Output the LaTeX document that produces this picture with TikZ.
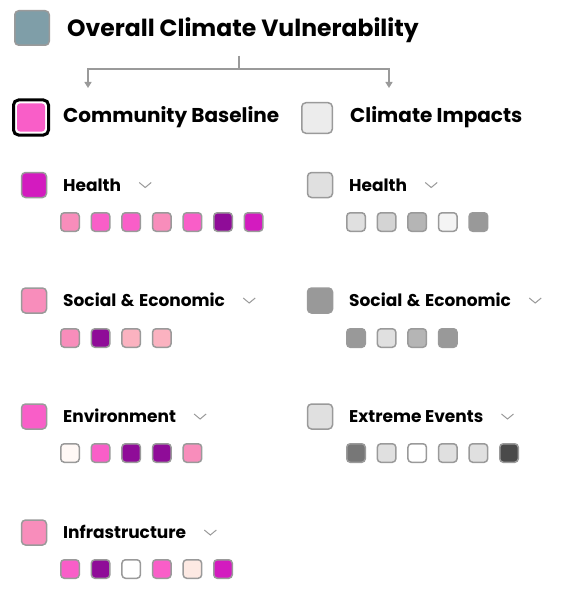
\documentclass[tikz,border=0pt]{standalone}
\usepackage{fontspec}
\setmainfont{Poppins}
\usetikzlibrary{arrows.meta,calc,positioning}
\definecolor{cvSlate}{HTML}{7F9EA8}
\definecolor{cvMagenta}{HTML}{D31BBF}
\definecolor{cvPink}{HTML}{F95EC8}
\definecolor{cvRose}{HTML}{F88DBB}
\definecolor{cvPlum}{HTML}{8F0C98}
\definecolor{cvBlush}{HTML}{FBB2C0}
\definecolor{cvCream}{HTML}{FFF8F5}
\definecolor{cvPeach}{HTML}{FDE9E3}
\definecolor{gA}{HTML}{F4F4F4}
\definecolor{gB}{HTML}{E0E0E0}
\definecolor{gC}{HTML}{D4D4D4}
\definecolor{gD}{HTML}{B5B5B5}
\definecolor{gE}{HTML}{999999}
\definecolor{gF}{HTML}{777777}
\definecolor{gG}{HTML}{4A4A4A}
\definecolor{edgeGray}{HTML}{9A9A9A}
\tikzset{
  swatch/.style={draw=edgeGray,line width=1.5pt,rounded corners=4pt,minimum size=25pt,inner sep=0pt},
  chip/.style={draw=edgeGray,line width=1.5pt,rounded corners=3.5pt,minimum size=18.5pt,inner sep=0pt},
  rowlabel/.style={anchor=base west,inner sep=0pt,font=\fontsize{17}{20}\selectfont\bfseries},
  headlabel/.style={anchor=base west,inner sep=0pt,font=\fontsize{20}{24}\selectfont\bfseries},
  chev/.style={draw=edgeGray,line width=1pt},
  link/.style={draw=edgeGray,line width=1.3pt,-{Triangle[width=7pt,length=6pt]}}
}
\newcommand{\chevron}[1]{\draw[chev] ($(#1.base east)+(18,-8.5)$) -- ++(6,5) -- ++(6,-5);}
\begin{document}
\begin{tikzpicture}[x=1pt,y=-1pt]
\useasboundingbox (0,0) rectangle (567,591);
% top level
\node[swatch,minimum size=34.5pt,fill=cvSlate] (overall) at (32,28) {};
\node[anchor=base west,inner sep=0pt,font=\fontsize{23.5}{28}\selectfont\bfseries] (overallTxt) at (67,37) {Overall Climate Vulnerability};
\coordinate (fork) at (239,56);
\coordinate (toBase) at (88,88);
\coordinate (toImpact) at (389,88);
\draw[link] (fork) -- ++(0,13) -| (toBase);
\draw[link] (fork) -- ++(0,13) -| (toImpact);
% second level
\node[draw=black,line width=3pt,rounded corners=5pt,minimum size=35pt,inner sep=0pt,fill=white] (base) at (31,117.5) {};
\node[rounded corners=3pt,minimum size=28pt,inner sep=0pt,fill=cvPink] (baseFill) at (base) {};
\node[headlabel] (baseTxt) at (63,123) {Community Baseline};
\node[swatch,minimum size=30.5pt,fill=gB!60!white] (impact) at (317,118) {};
\node[headlabel] (impactTxt) at (350,123) {Climate Impacts};
% community baseline rows
\node[swatch,fill=cvMagenta] (bHealth) at (34,185) {};
\node[rowlabel] (bHealthTxt) at (63,191) {Health};
\chevron{bHealthTxt}
\foreach \c [count=\i] in {cvRose,cvPink,cvPink,cvRose,cvPink,cvPlum,cvMagenta}
  \node[chip,fill=\c] (bh\i) at ({70+30.6*(\i-1)},222) {};
\node[swatch,fill=cvRose] (bSocial) at (34,300.5) {};
\node[rowlabel] (bSocialTxt) at (63,306.5) {Social\hspace{1pt} \&\hspace{1pt} Economic};
\chevron{bSocialTxt}
\foreach \c [count=\i] in {cvRose,cvPlum,cvBlush,cvBlush}
  \node[chip,fill=\c] (bs\i) at ({70+30.6*(\i-1)},338) {};
\node[swatch,fill=cvPink] (bEnv) at (34,416.5) {};
\node[rowlabel] (bEnvTxt) at (63,422.5) {Environment};
\chevron{bEnvTxt}
\foreach \c [count=\i] in {cvCream,cvPink,cvPlum,cvPlum,cvRose}
  \node[chip,fill=\c] (be\i) at ({70+30.6*(\i-1)},453) {};
\node[swatch,fill=cvRose] (bInfra) at (34,532.5) {};
\node[rowlabel] (bInfraTxt) at (63,538.5) {Infrastructure};
\chevron{bInfraTxt}
\foreach \c [count=\i] in {cvPink,cvPlum,white,cvPink,cvPeach,cvMagenta}
  \node[chip,fill=\c] (bi\i) at ({70+30.6*(\i-1)},569) {};
% climate impacts rows
\node[swatch,fill=gB] (iHealth) at (320,185) {};
\node[rowlabel] (iHealthTxt) at (349,191) {Health};
\chevron{iHealthTxt}
\foreach \c [count=\i] in {gB,gC,gD,gA,gE}
  \node[chip,fill=\c] (ih\i) at ({356+30.6*(\i-1)},222) {};
\node[swatch,fill=gE] (iSocial) at (320,300.5) {};
\node[rowlabel] (iSocialTxt) at (349,306.5) {Social\hspace{1pt} \&\hspace{1pt} Economic};
\chevron{iSocialTxt}
\foreach \c [count=\i] in {gE,gB,gD,gE}
  \node[chip,fill=\c] (is\i) at ({356+30.6*(\i-1)},338) {};
\node[swatch,fill=gB] (iExtreme) at (320,416.5) {};
\node[rowlabel] (iExtremeTxt) at (349,422.5) {Extreme Events};
\chevron{iExtremeTxt}
\foreach \c [count=\i] in {gF,gB,white,gB,gB,gG}
  \node[chip,fill=\c] (ie\i) at ({356+30.6*(\i-1)},453) {};
\end{tikzpicture}
\end{document}
